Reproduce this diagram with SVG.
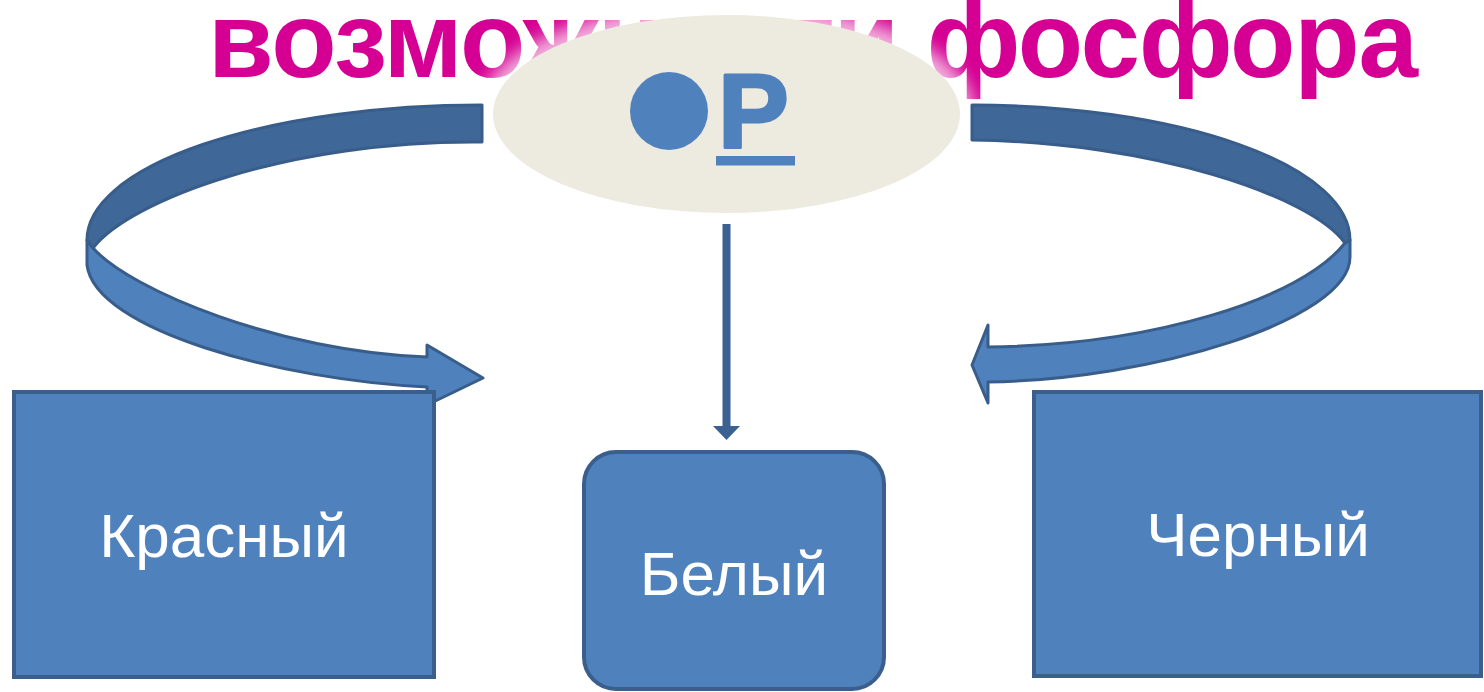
<svg xmlns="http://www.w3.org/2000/svg" width="1484" height="692" viewBox="0 0 1484 692">
<style>
.title{font-family:"Liberation Sans",Arial,sans-serif;font-weight:bold;font-size:107px;fill:#D50093}
.lbl{font-family:"Liberation Sans",Arial,sans-serif;font-size:62px;fill:#FFFFFF;text-anchor:middle}
.sym{font-family:"Liberation Sans",Arial,sans-serif;font-weight:700;font-size:106px;fill:#4F81BD;stroke:#4F81BD;stroke-width:3;stroke-linejoin:round}
.box{fill:#4F81BD;stroke:#3A5F8D;stroke-width:4}
.dark{fill:#3F6797;stroke:#385D8A;stroke-width:3;stroke-linejoin:round}
.light{fill:#4F81BD;stroke:#385D8A;stroke-width:3;stroke-linejoin:round}
</style>
<defs>
<filter id="glow" x="-20%" y="-30%" width="140%" height="160%"><feGaussianBlur stdDeviation="9"/></filter>
</defs>
<rect width="1484" height="692" fill="#FFFFFF"/>
<text class="title" x="208" y="77" textLength="1210" lengthAdjust="spacing">возможности фосфора</text>

<g id="node-P">
<ellipse cx="726.5" cy="114" rx="248" ry="112" fill="#FFFFFF" opacity="0.7" filter="url(#glow)"/>
<ellipse cx="726.5" cy="114" rx="233.5" ry="99" fill="#EDEAE0"/>
<circle cx="669" cy="111" r="39" fill="#4F81BD"/>
<text class="sym" x="718" y="148">P</text>
<rect x="716" y="156" width="79" height="9.5" fill="#4F81BD"/>
</g>

<g id="connectors">
<g id="arrow-left">
<path class="light" d="M93,248 C130,290 280,352 427,357 L427,345 L483,378 L427,405 L427,387 C280,380 95,330 87,265 L87,240 Z"/>
<path class="dark" d="M482,105 A395,135 0 0 0 87,240 L93,248 C130,200 290,140 482,142 Z"/>
</g>
<g id="arrow-right">
<path class="light" d="M1345,243 C1300,300 1150,345 988,347 L988,325 L972,365 L988,403 L988,382 C1150,380 1350,320 1350,257 L1350,240 Z"/>
<path class="dark" d="M972,105 A378,135 0 0 1 1350,240 L1345,243 C1310,195 1150,142 972,140 Z"/>
</g>
<g id="arrow-down">
<line x1="726.5" y1="224" x2="726.5" y2="428" stroke="#3B6192" stroke-width="8"/>
<polygon points="713,426 740,426 726.5,440" fill="#3B6192"/>
</g>
</g>

<g id="node-red">
<rect class="box" x="14" y="392" width="420" height="285"/>
<text class="lbl" x="224" y="557">Красный</text>
</g>
<g id="node-white">
<rect class="box" x="584" y="452" width="300" height="237" rx="32"/>
<text class="lbl" x="734" y="595">Белый</text>
</g>
<g id="node-black">
<rect class="box" x="1034" y="392" width="447" height="284"/>
<text class="lbl" x="1258" y="556">Черный</text>
</g>
</svg>
